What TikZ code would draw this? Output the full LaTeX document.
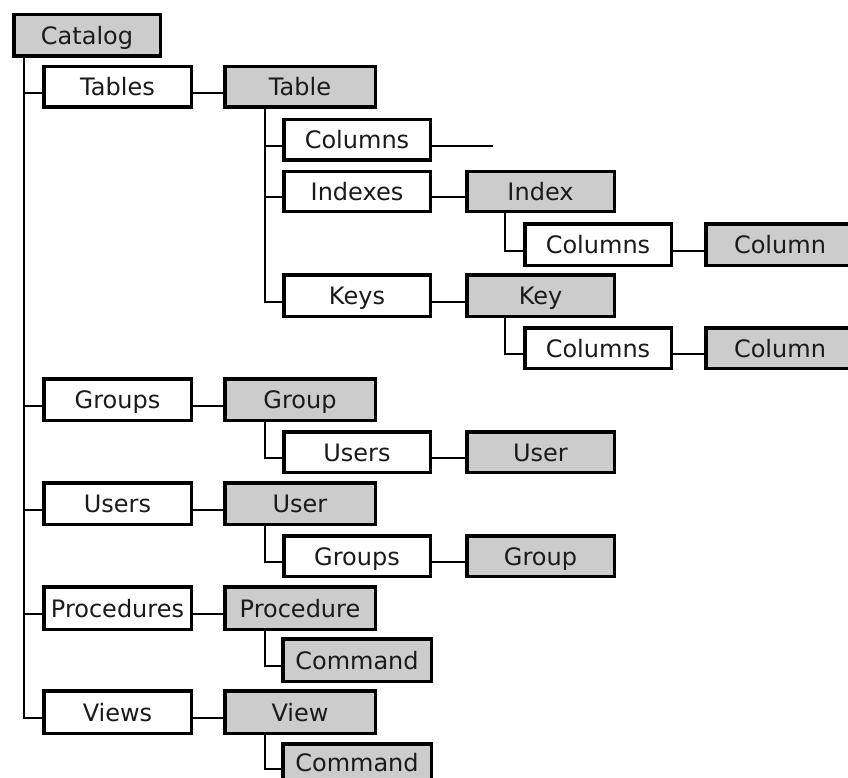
\documentclass[tikz,border=0pt]{standalone}
\usepackage{fontspec}
\setmainfont{DejaVu Sans}
\usetikzlibrary{calc}
\definecolor{boxgray}{HTML}{CCCCCC}
\definecolor{txt}{HTML}{1A1A1A}
\tikzset{
  box/.style={draw=black, line width=3.5pt, inner sep=0pt,
    font=\fontsize{24}{28}\selectfont, text=txt, text height=18pt, text depth=0pt},
  wbox/.style={box, fill=white},
  gbox/.style={box, fill=boxgray},
  conn/.style={line width=2pt, draw=black}
}
\newcommand\bx[7]{\node[#7, minimum width={#4-#2-3.5}, minimum height={#5-#3-3.5}] (#1) at ({(#2+#4)/2},{(#3+#5)/2}) {#6};}
\newcommand\branch[3]{\draw[conn] ($(#1.south west)+(#2,0)$) |- ($(#3.west)+(0,6)$);}
\newcommand\link[2]{\draw[conn] ($(#1.east)+(0,6)$) -- ($(#2.west)+(0,6)$);}
\begin{document}
\begin{tikzpicture}[x=1pt,y=-1pt]
\clip (0,0) rectangle (848,778);
\fill[white] (0,0) rectangle (848,778);
% boxes
\bx{catalog}{12}{13}{162}{58}{Catalog}{gbox}
\bx{tables}{42}{65}{193}{109}{Tables}{wbox}
\bx{table}{223}{65}{377}{109}{Table}{gbox}
\bx{cols}{282}{118}{432}{162}{Columns}{wbox}
\bx{indexes}{282}{170}{432}{213}{Indexes}{wbox}
\bx{index}{465}{170}{616}{213}{Index}{gbox}
\bx{icols}{523}{222}{673}{267}{Columns}{wbox}
\bx{icol}{704}{222}{856}{267}{Column}{gbox}
\bx{keys}{282}{273}{432}{318}{Keys}{wbox}
\bx{key}{465}{273}{616}{318}{Key}{gbox}
\bx{kcols}{523}{326}{673}{370}{Columns}{wbox}
\bx{kcol}{704}{326}{856}{370}{Column}{gbox}
\bx{groups}{42}{377}{193}{422}{Groups}{wbox}
\bx{group}{223}{377}{377}{422}{Group}{gbox}
\bx{gusers}{282}{430}{432}{474}{Users}{wbox}
\bx{guser}{465}{430}{616}{474}{User}{gbox}
\bx{users}{42}{481}{193}{526}{Users}{wbox}
\bx{user}{223}{481}{377}{526}{User}{gbox}
\bx{ugroups}{282}{534}{432}{578}{Groups}{wbox}
\bx{ugroup}{465}{534}{616}{578}{Group}{gbox}
\bx{procs}{42}{585}{193}{631}{Procedures}{wbox}
\bx{proc}{223}{585}{377}{631}{Procedure}{gbox}
\bx{pcmd}{281}{637}{433}{683}{Command}{gbox}
\bx{views}{42}{689}{193}{735}{Views}{wbox}
\bx{view}{223}{689}{377}{735}{View}{gbox}
\bx{vcmd}{281}{742}{433}{783}{Command}{gbox}
% tree connectors
\foreach \c in {tables,groups,users,procs,views} {\branch{catalog}{12.25}{\c}}
\foreach \c in {cols,indexes,keys} {\branch{table}{41.75}{\c}}
\branch{index}{40.25}{icols}
\branch{key}{40.25}{kcols}
\branch{group}{41.75}{gusers}
\branch{user}{41.75}{ugroups}
\branch{proc}{41.75}{pcmd}
\branch{view}{41.75}{vcmd}
% sibling connectors
\link{tables}{table}
\link{indexes}{index}
\link{icols}{icol}
\link{keys}{key}
\link{kcols}{kcol}
\link{groups}{group}
\link{gusers}{guser}
\link{users}{user}
\link{ugroups}{ugroup}
\link{procs}{proc}
\link{views}{view}
\coordinate (colsend) at (493,146);
\draw[conn] ($(cols.east)+(0,6)$) -- (colsend);
\end{tikzpicture}
\end{document}
